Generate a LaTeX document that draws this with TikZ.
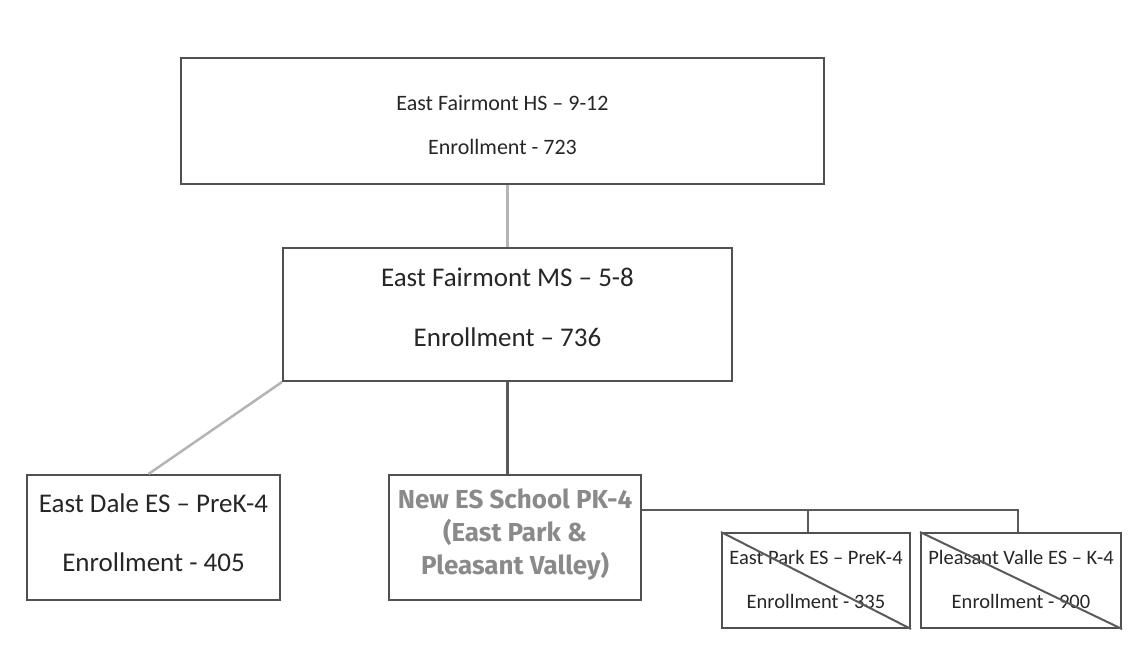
\documentclass[tikz,border=0pt]{standalone}
\usepackage{fontspec}
\setmainfont{Carlito}
\newfontfamily\newesfont{Fira Sans}
\usetikzlibrary{positioning}

\definecolor{boxline}{HTML}{505050}
\definecolor{lightline}{HTML}{B4B4B4}
\definecolor{darkline}{HTML}{5A5A5A}
\definecolor{newtext}{HTML}{8A8A8A}

\begin{document}
\begin{tikzpicture}[x=1pt,y=-1pt,
  school/.style={draw=boxline,line width=2pt,inner sep=0pt},
  schooltext/.style={align=center,inner sep=0pt,text=black!85},
  lightlink/.style={lightline,line width=2.5pt},
  darklink/.style={darkline,line width=2.5pt}]
\useasboundingbox (0,0) rectangle (1132,645);
% boxes
\node[school,minimum width=643pt,minimum height=126pt] (hs) at (502.5,121) {};
\node[school,minimum width=449pt,minimum height=133pt] (ms) at (507.5,314.5) {};
\node[school,minimum width=253pt,minimum height=125pt] (dale) at (153.5,537.5) {};
\node[school,minimum width=252pt,minimum height=125pt] (new) at (515,537.5) {};
\node[school,minimum width=188pt,minimum height=95pt] (park) at (816,580.5) {};
\node[school,minimum width=200pt,minimum height=95pt] (pleasant) at (1021,580.5) {};
% texts
\node[schooltext,font=\fontsize{22}{26}\selectfont] (hstext) at (502.5,125.5)
  {East Fairmont HS – 9-12\\[18pt]Enrollment - 723};
\node[schooltext,font=\fontsize{27}{32}\selectfont] (mstext) at (507.5,307.5)
  {East Fairmont MS – 5-8\\[28pt]Enrollment – 736};
\node[schooltext,font=\fontsize{27}{31}\selectfont] (daletext) at (153.5,533)
  {East Dale ES – PreK-4\\[28pt]Enrollment - 405};
\node[schooltext,font=\newesfont\bfseries\fontsize{26}{33}\selectfont,text=newtext]
  (newtext) at (515,535) {New ES School PK-4\\(East Park \&\\Pleasant Valley)};
\node[schooltext,font=\fontsize{20.5}{24}\selectfont] (parktext) at (816,579.5)
  {East Park ES – PreK-4\\[20pt]Enrollment - 335};
\node[schooltext,font=\fontsize{20.5}{24}\selectfont] (pleasanttext) at (1021,579.5)
  {Pleasant Valle ES – K-4\\[20pt]Enrollment - 900};
% crossed out schools
\draw[darkline,line width=2pt] (park.north west) -- (park.south east);
\draw[darkline,line width=2pt] (pleasant.north west) -- (pleasant.south east);
% links
\draw[lightlink] (ms.north) -- (ms.north |- hs.south);
\draw[lightlink] (ms.south west) -- ([xshift=-5pt]dale.north);
\draw[darklink] (ms.south) -- (ms.south |- new.north);
\coordinate (bus) at (0,510);
\draw[darklink] (new.east |- bus) -- ([xshift=-3pt]pleasant.north |- bus)
  -- ([xshift=-3pt]pleasant.north);
\draw[darklink] ([xshift=-8pt]park.north |- bus) -- ([xshift=-8pt]park.north);
\end{tikzpicture}
\end{document}
